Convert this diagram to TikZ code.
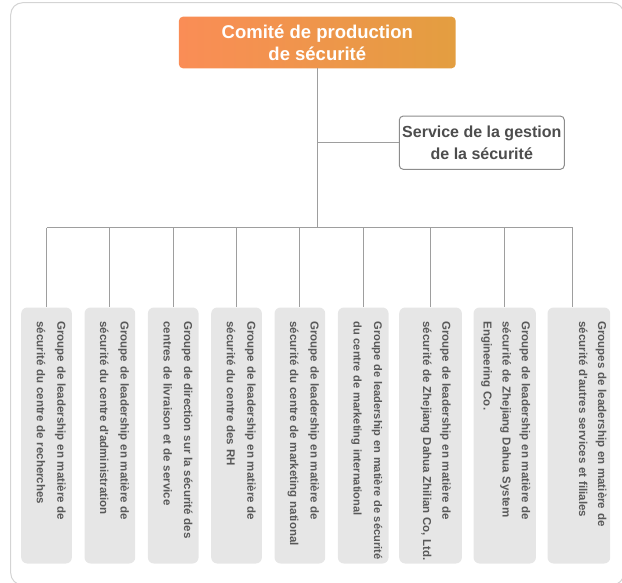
\documentclass[tikz,border=0pt]{standalone}
\usepackage{fontspec}
\setmainfont{Liberation Sans}[Ligatures=TeXOff]
\definecolor{framecol}{HTML}{D4D4D4}
\definecolor{linkcol}{HTML}{9E9E9E}
\definecolor{gfill}{HTML}{E6E6E6}
\definecolor{gtextcol}{HTML}{595959}
\definecolor{svcborder}{HTML}{8C8C8C}
\definecolor{svctext}{HTML}{4D4D4D}
\definecolor{orangeL}{HTML}{FA8D56}
\definecolor{orangeR}{HTML}{E39E40}
\begin{document}
\begin{tikzpicture}[x=1pt,y=-1pt,
  topbox/.style={rounded corners=4pt, left color=orangeL, right color=orangeR, draw=none,
    text=white, font=\fontsize{18.5}{21.7}\selectfont\bfseries, align=center,
    inner sep=0pt, minimum width=276.7pt, minimum height=51.6pt},
  svcbox/.style={draw=svcborder, line width=1pt, fill=white, rounded corners=4pt,
    text=svctext, font=\fontsize{16}{21.7}\selectfont\bfseries, align=center,
    inner sep=0pt, minimum width=165pt, minimum height=53.3pt},
  gbox/.style={fill=gfill, draw=none, rounded corners=6pt, inner sep=0pt,
    minimum height=256pt, anchor=north west},
  gtext/.style={rotate=-90, anchor=base west, inner sep=0pt, text width=260pt,
    align=left, text=gtextcol, font=\fontsize{11.5}{20.5}\selectfont\bfseries},
  gtextb/.style={gtext, font=\fontsize{11.5}{19.2}\selectfont\bfseries},
  link/.style={draw=linkcol, line width=1pt}
]
\useasboundingbox (0,0) rectangle (622,583);
\begin{scope}
  \clip (0,0) rectangle (622,583);
  \draw[framecol, line width=1pt, rounded corners=12pt] (10.7,2.7) rectangle (624,585);
\end{scope}

% main boxes
\node[topbox] (top) at (317.3,42.5) {Comité de production\\de sécurité};
\node[svcbox] (svc) at (481.8,142.7) {Service de la gestion\\de la sécurité};

% group boxes
\node[gbox, minimum width=50.7pt] (g1) at (21,307.3) {};
\node[gbox, minimum width=50.7pt] (g2) at (84.33,307.3) {};
\node[gbox, minimum width=50.7pt] (g3) at (147.67,307.3) {};
\node[gbox, minimum width=50.7pt] (g4) at (211,307.3) {};
\node[gbox, minimum width=50.7pt] (g5) at (274.33,307.3) {};
\node[gbox, minimum width=50.7pt] (g6) at (337.67,307.3) {};
\node[gbox, minimum width=62.7pt] (g7) at (399,307.3) {};
\node[gbox, minimum width=62.4pt] (g8) at (473.3,307.3) {};
\node[gbox, minimum width=62.7pt] (g9) at (547.3,307.3) {};

% group texts
\node[gtext] (t1) at (57.4,321.2) {Groupe de leadership en matière de\\sécurité du centre de recherches};
\node[gtext] (t2) at (120.7,321.2) {Groupe de leadership en matière de\\sécurité du centre d'administration};
\node[gtext] (t3) at (184.1,321.2) {Groupe de direction sur la sécurité des\\centres de livraison et de service};
\node[gtext] (t4) at (247.4,321.2) {Groupe de leadership en matière de\\sécurité du centre des RH};
\node[gtext] (t5) at (310.7,321.2) {Groupe de leadership en matière de\\sécurité du centre de marketing national};
\node[gtext, font=\fontsize{11.1}{20.5}\selectfont\bfseries] (t6) at (374.1,321.2) {Groupe de leadership en matière de sécurité\\du centre de marketing international};
\node[gtextb] (t7) at (442.4,321.2) {Groupe de leadership en matière de\\sécurité de Zhejiang Dahua Zhilian Co, Ltd.};
\node[gtextb] (t8) at (521.9,321.2) {Groupe de leadership en matière de\\sécurité de Zhejiang Dahua System\\Engineering Co.};
\node[gtextb] (t9) at (598.2,321.2) {Groupes de leadership en matière de\\sécurité d'autres services et filiales};

% connectors
\coordinate (barY) at (0,228);
\coordinate (c9) at (572.7,307.3);
\draw[link] (top.south) -- (top.south |- barY);
\draw[link] (svc.west) -- (svc.west -| top.south);
\draw[link] (g1.north |- barY) -- (c9 |- barY);
\foreach \i in {1,...,8} \draw[link] (g\i.north |- barY) -- (g\i.north);
\draw[link] (c9 |- barY) -- (c9);
\end{tikzpicture}
\end{document}
